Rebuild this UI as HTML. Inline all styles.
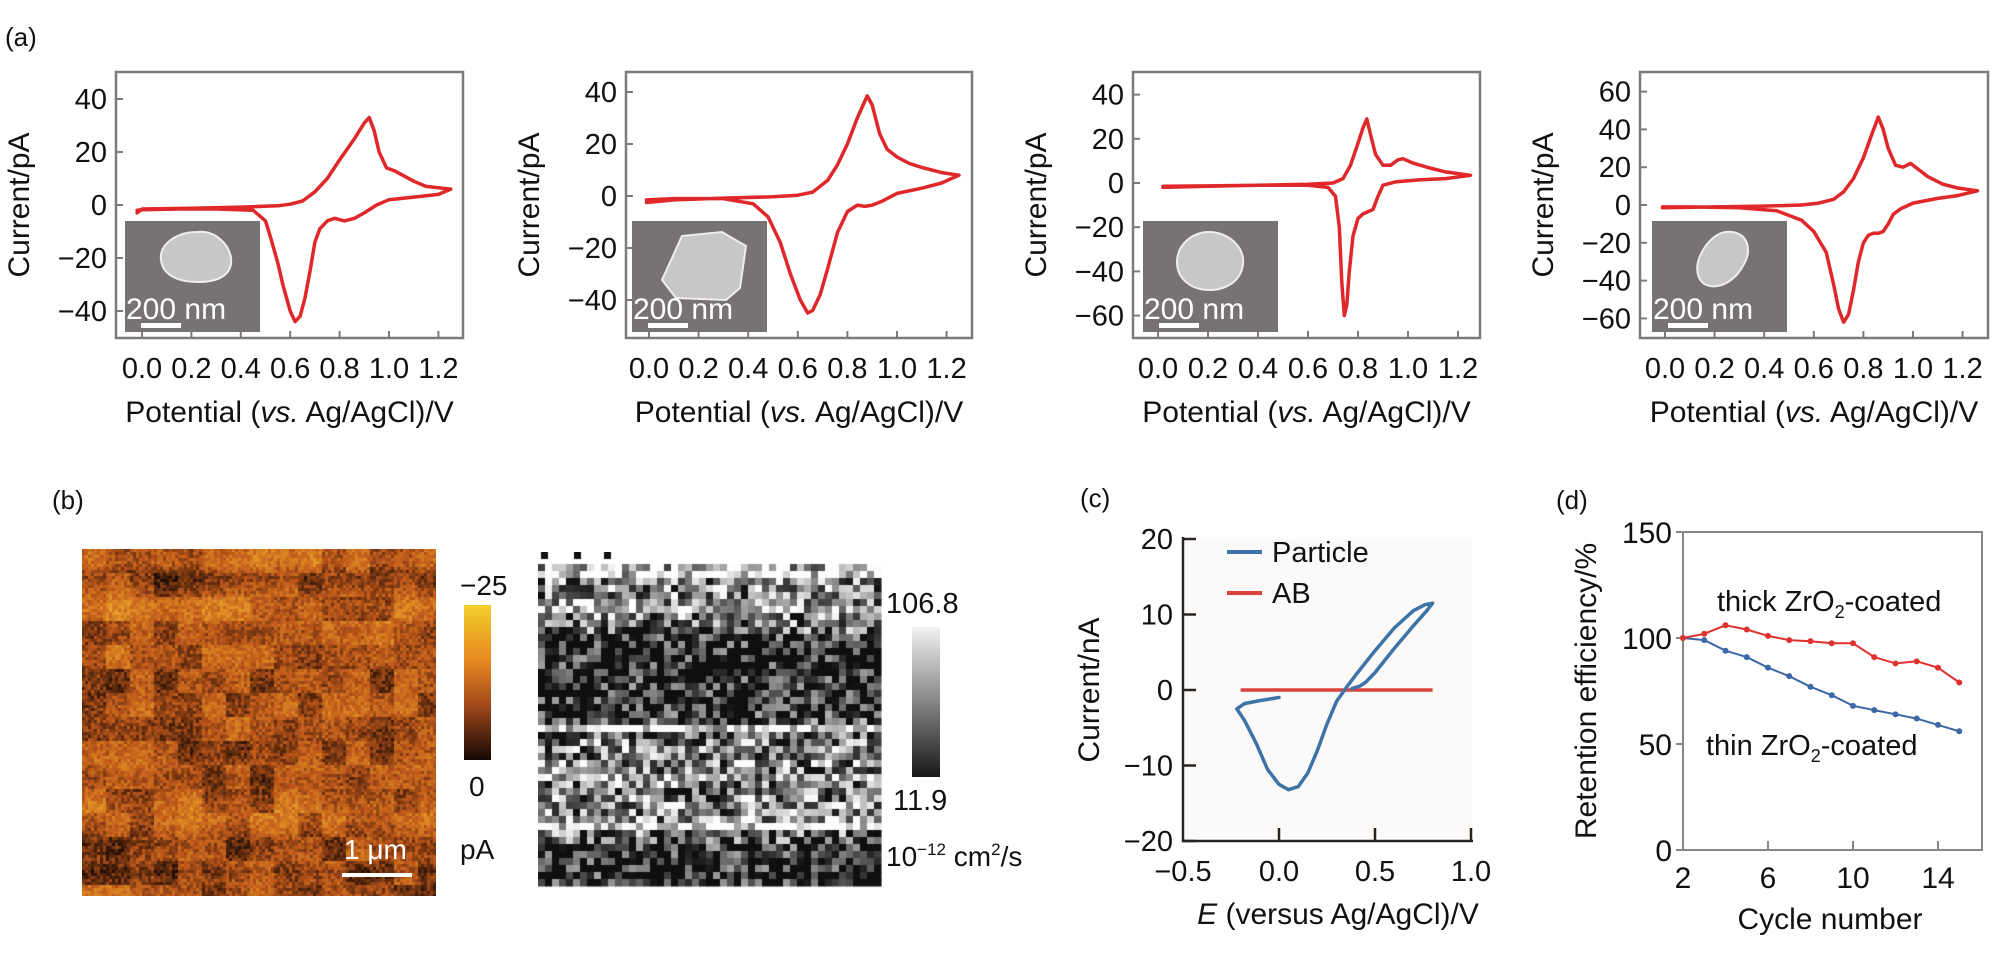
<!DOCTYPE html>
<html><head><meta charset="utf-8"><title>CV and retention figure</title>
<style>
html,body{margin:0;padding:0;background:#fff;}
#wrap{position:relative;width:1998px;height:953px;overflow:hidden;font-family:"Liberation Sans",Arial,sans-serif;}
svg{position:absolute;left:0;top:0;}
canvas{position:absolute;}
text{font-family:"Liberation Sans",Arial,sans-serif;fill:#111;}
</style></head>
<body>
<div id="wrap">
<canvas id="omap" width="354" height="347" style="left:82px;top:549px"></canvas>
<canvas id="gmap" width="344" height="346" style="left:538px;top:552px"></canvas>
<svg id="fig" width="1998" height="953" viewBox="0 0 1998 953">
  <text x="5" y="46" font-size="26">(a)</text>
  <text x="52" y="509" font-size="26">(b)</text>
  <text x="1080" y="507" font-size="26">(c)</text>
  <text x="1556" y="509" font-size="26">(d)</text>

  <defs>
    <linearGradient id="og" x1="0" y1="0" x2="0" y2="1">
      <stop offset="0" stop-color="#f2cf2a"/><stop offset="0.35" stop-color="#e98a22"/>
      <stop offset="0.65" stop-color="#a0481a"/><stop offset="1" stop-color="#140805"/>
    </linearGradient>
    <linearGradient id="gg" x1="0" y1="0" x2="0" y2="1">
      <stop offset="0" stop-color="#f4f2f0"/><stop offset="1" stop-color="#1a1816"/>
    </linearGradient>
  </defs>
  <rect x="464" y="605" width="27" height="155" fill="url(#og)"/>
  <text x="460" y="595" font-size="28">−25</text>
  <text x="469" y="796" font-size="28">0</text>
  <text x="460" y="859" font-size="28">pA</text>
  <text x="344" y="859" font-size="28" fill="#fff" style="fill:#fff">1 μm</text>
  <rect x="342" y="873" width="70" height="4" fill="#fff"/>

  <rect x="912" y="627" width="28" height="150" fill="url(#gg)"/>
  <text x="886" y="613" font-size="29">106.8</text>
  <text x="893" y="810" font-size="29">11.9</text>
  <text x="886" y="866" font-size="28">10<tspan font-size="17" dy="-11">−12</tspan><tspan dy="11"> cm</tspan><tspan font-size="17" dy="-11">2</tspan><tspan dy="11">/s</tspan></text>

  <g id="cvgroup"></g>
  <g id="cgroup"></g>
  <g id="dgroup"></g>
</svg>
</div>
<script>
// ===== Panel (a) data =====
const cvXTicks = [0, 0.2, 0.4, 0.6, 0.8, 1.0, 1.2];
const cv1YTicks = [40, 20, 0, -20, -40];
const cv2YTicks = [40, 20, 0, -20, -40];
const cv3YTicks = [40, 20, 0, -20, -40, -60];
const cv4YTicks = [60, 40, 20, 0, -20, -40, -60];

const cv1Potential = [-0.02,0.0,0.2,0.4,0.55,0.6,0.65,0.7,0.75,0.8,0.86,0.9,0.92,0.94,0.96,0.99,1.02,1.06,1.1,1.15,1.2,1.25,1.2,1.1,1.0,0.95,0.9,0.86,0.82,0.78,0.75,0.72,0.7,0.68,0.66,0.64,0.62,0.6,0.57,0.55,0.52,0.5,0.45,0.3,0.15,0.0,-0.02];
const cv1Current   = [-3,-1.5,-1.2,-0.8,-0.3,0.3,1.5,5,10,17,25,31,33,28,20,14,13,11,9,7,6.5,6,4,3,2,0,-3,-5,-6,-5,-6,-9,-14,-25,-35,-42,-44,-40,-30,-22,-12,-6,-2,-1.5,-1.5,-1.8,-2];

const cv2Potential = [-0.01,0.1,0.3,0.5,0.6,0.66,0.72,0.76,0.8,0.84,0.88,0.9,0.93,0.96,1.0,1.05,1.1,1.18,1.25,1.18,1.1,1.0,0.94,0.9,0.87,0.84,0.8,0.76,0.72,0.69,0.66,0.64,0.61,0.57,0.53,0.48,0.42,0.3,0.1,-0.01];
const cv2Current   = [-2.5,-1.5,-0.8,-0.3,0.3,1.5,6,12,20,30,38.5,35,24,18,15,12.5,11,9,8,5,3,1,-2,-3.5,-4,-3.5,-6,-14,-28,-38,-44,-45,-40,-30,-18,-8,-3,-1,-1,-1.5];

const cv3Potential = [0.02,0.2,0.4,0.6,0.7,0.74,0.77,0.8,0.82,0.835,0.85,0.87,0.9,0.93,0.96,0.98,1.02,1.08,1.15,1.25,1.15,1.05,0.95,0.9,0.88,0.86,0.84,0.82,0.8,0.78,0.765,0.755,0.745,0.735,0.725,0.71,0.68,0.6,0.4,0.2,0.02];
const cv3Current   = [-2,-1.5,-1,-0.6,0,2,8,18,25,29,22,13,8,8,10.5,11,9,7,5,3.5,2,1.5,0.5,-1,-6,-12,-13,-14,-16,-24,-40,-55,-60,-45,-20,-6,-2,-1,-1,-1.3,-1.5];

const cv4Potential = [-0.01,0.2,0.4,0.55,0.62,0.68,0.72,0.76,0.8,0.83,0.86,0.88,0.9,0.93,0.96,0.99,1.02,1.06,1.12,1.18,1.26,1.18,1.1,1.0,0.95,0.92,0.9,0.88,0.86,0.84,0.82,0.8,0.78,0.76,0.74,0.72,0.7,0.68,0.65,0.6,0.55,0.45,0.3,0.1,-0.01];
const cv4Current   = [-1.5,-1,-0.6,0,1,3,7,14,25,36,46.5,40,30,21,20,22,19,15,11,9,7.5,5,3.5,1,-2,-5,-10,-14,-15,-15,-16,-20,-30,-45,-58,-62,-55,-42,-25,-14,-8,-3,-1.5,-1,-1];

// ===== Panel (c) data =====
const cXTicks = [-0.5, 0.0, 0.5, 1.0];
const cYTicks = [20, 10, 0, -10, -20];
const particlePotential = [0.0,-0.1,-0.18,-0.22,-0.18,-0.12,-0.06,0.0,0.05,0.1,0.15,0.2,0.25,0.3,0.35,0.4,0.5,0.6,0.7,0.76,0.8,0.77,0.7,0.6,0.5,0.45,0.42,0.38];
const particleCurrent   = [-1,-1.4,-1.8,-2.5,-4,-7,-10.5,-12.5,-13.2,-12.8,-11,-8,-4.5,-1.5,0.3,2,5.2,8.2,10.5,11.3,11.5,10.5,8.5,5.5,2.3,1,0.5,0.2];
const abPotential = [-0.2, 0.8];
const abCurrent   = [0, 0];

// ===== Panel (d) data =====
const dCycles = [2,3,4,5,6,7,8,9,10,11,12,13,14,15];
const thickRetention = [100,102,106,104,101,99,98.5,97.5,97.5,91,88,89,86,79];
const thinRetention  = [100,99,94,91,86,82,77,73,68,66,64,62,59,56];
const dXTicks = [2, 6, 10, 14];
const dYTicks = [0, 50, 100, 150];

// ===== texture profiles for panel (b) maps (row brightness levels) =====
const grayRowLevels = [0.75,0.85,0.5,0.55,0.5,0.6,0.75,0.5,0.45,0.35,0.1,0.08,0.06,0.07,0.08,0.06,0.08,0.1,0.07,0.06,0.08,0.15,0.3,0.95,0.35,0.45,0.5,0.4,0.5,0.45,0.55,0.5,0.4,0.5,0.55,0.45,0.6,0.9,0.4,0.3,0.12,0.08,0.07,0.1,0.08,0.06];
const orangeRowLevels = [0.55,0.6,0.3,0.45,0.62,0.6,0.45,0.5,0.55,0.45,0.4,0.45,0.5,0.45,0.42,0.4,0.48,0.35,0.45,0.55,0.6,0.5,0.35,0.45,0.3,0.42,0.45];

const NS = "http://www.w3.org/2000/svg";
function el(tag, attrs, parent){
  const e = document.createElementNS(NS, tag);
  for (const k in attrs) e.setAttribute(k, attrs[k]);
  parent.appendChild(e);
  return e;
}
function fmtMinus(v, dec){ const s = Math.abs(v).toFixed(dec); return v < 0 ? "\u2212" + s : s; }

// ---------- Panel (a) ----------
const cvLayouts = [
  {left:116,right:463,top:72,bottom:338,x0:142,pxV:247,y0:205,pxA:2.65,inset:125},
  {left:626,right:972,top:72,bottom:338,x0:649,pxV:248,y0:196,pxA:2.6,inset:632},
  {left:1133,right:1480,top:72,bottom:338,x0:1158,pxV:250,y0:183,pxA:2.21,inset:1143},
  {left:1640,right:1988,top:72,bottom:338,x0:1665,pxV:248,y0:205,pxA:1.89,inset:1652}
];
const cvData = [[cv1Potential,cv1Current,cv1YTicks],[cv2Potential,cv2Current,cv2YTicks],[cv3Potential,cv3Current,cv3YTicks],[cv4Potential,cv4Current,cv4YTicks]];
const blobShapes = [
  "M52,0 C70,-2 84,12 86,26 C88,42 74,50 54,50 C34,50 18,44 16,28 C14,12 32,0 52,0Z",
  "M30,4 L70,0 L94,14 L88,56 L74,68 L24,66 L10,48 Z",
  "M46,0 C64,0 82,14 80,32 C78,50 62,58 46,58 C30,58 14,48 14,30 C14,12 30,0 46,0Z",
  "M60,0 C76,2 80,18 72,32 C64,48 50,56 38,54 C26,52 22,38 28,24 C34,10 46,-2 60,0Z"
];
const cvg = document.getElementById("cvgroup");
cvLayouts.forEach((L, p) => {
  const [pot, cur, yt] = cvData[p];
  const X = v => L.x0 + v * L.pxV;
  const Y = a => L.y0 - a * L.pxA;
  const g = el("g", {}, cvg);
  
  
  const box = el("rect", {x:L.left, y:L.top, width:L.right-L.left, height:L.bottom-L.top, fill:"#fff", stroke:"#7d7a78", "stroke-width":2.5}, g);
  
  
  const ins = el("g", {}, g);
  
  
  el("rect", {x:L.inset, y:221, width:135, height:111, fill:"#777372"}, ins);
  el("path", {d:blobShapes[p], transform:"translate(" + (L.inset+20) + ",232)", fill:"#c9c7c6", stroke:"#eeeeee", "stroke-width":2}, ins);
  const it = el("text", {x:L.inset+1, y:319, "font-size":30, style:"fill:#fff"}, ins);
  it.textContent = "200 nm";
  el("rect", {x:L.inset+16, y:323, width:40, height:5, fill:"#fff"}, ins);
  yt.forEach(v => {
    const t = el("line", {x1:L.left, x2:L.left+7, y1:Y(v), y2:Y(v), stroke:"#7d7a78", "stroke-width":2}, g);
    
    
    const lb = el("text", {x:L.left-9, y:Y(v)+10, "font-size":29, "text-anchor":"end"}, g);
    
    
    lb.textContent = fmtMinus(v, 0);
  });
  cvXTicks.forEach(v => {
    const t = el("line", {x1:X(v), x2:X(v), y1:L.bottom, y2:L.bottom-7, stroke:"#7d7a78", "stroke-width":2}, g);
    
    
    const lb = el("text", {x:X(v), y:378, "font-size":29, "text-anchor":"middle"}, g);
    
    
    lb.textContent = v.toFixed(1);
  });
  const pts = pot.map((v,i) => X(v).toFixed(1) + "," + Y(cur[i]).toFixed(1)).join(" ");
  const line = el("polyline", {points:pts, fill:"none", stroke:"#e0272a", "stroke-width":3.5, "stroke-linejoin":"round", "stroke-linecap":"round"}, g);
  
  
  const xt = el("text", {x:(L.left+L.right)/2, y:422, "font-size":30, "text-anchor":"middle"}, g);
  
  
  xt.innerHTML = 'Potential (<tspan font-style="italic">vs.</tspan> Ag/AgCl)/V';
  const cx = L.left - 87, cy = 205;
  const yti = el("text", {x:cx, y:cy, "font-size":30, "text-anchor":"middle", transform:"rotate(-90 " + cx + " " + cy + ")"}, g);
  
  
  yti.textContent = "Current/pA";
});

// ---------- Panel (c) ----------
(function(){
  const g = document.getElementById("cgroup");
  
  
  const X = v => 1279 + v * 192;
  const Y = a => 690 - a * 7.55;
  el("rect", {x:1185, y:539, width:287, height:300, fill:"#fcfaf8"}, g);
  el("path", {d:"M1183,537 L1183,841 L1473,841", fill:"none", stroke:"#2a2422", "stroke-width":2.5}, g);
  cYTicks.forEach(v => {
    const t = el("line", {x1:1183, x2:1196, y1:Y(v), y2:Y(v), stroke:"#2a2422", "stroke-width":2.5}, g);
    
    
    const lb = el("text", {x:1173, y:Y(v)+10, "font-size":29, "text-anchor":"end"}, g);
    
    
    lb.textContent = fmtMinus(v, 0);
  });
  cXTicks.forEach(v => {
    if (v > -0.5) {
      const t = el("line", {x1:X(v), x2:X(v), y1:841, y2:828, stroke:"#2a2422", "stroke-width":2.5}, g);
      
      
    }
    const lb = el("text", {x:X(v), y:881, "font-size":29, "text-anchor":"middle"}, g);
    
    
    lb.textContent = fmtMinus(v, 1);
  });
  const ab = el("polyline", {points:abPotential.map((v,i)=>X(v)+","+Y(abCurrent[i])).join(" "), fill:"none", stroke:"#d8433b", "stroke-width":3.5}, g);
  
  
  const pl = el("polyline", {points:particlePotential.map((v,i)=>X(v).toFixed(1)+","+Y(particleCurrent[i]).toFixed(1)).join(" "), fill:"none", stroke:"#3d74a8", "stroke-width":3.5, "stroke-linejoin":"round", "stroke-linecap":"round"}, g);
  
  
  const l1 = el("line", {x1:1227, x2:1262, y1:552, y2:552, stroke:"#3d74a8", "stroke-width":4}, g);
  
  
  const t1 = el("text", {x:1272, y:562, "font-size":29}, g);
  
  
  t1.textContent = "Particle";
  const l2 = el("line", {x1:1227, x2:1262, y1:593, y2:593, stroke:"#d8433b", "stroke-width":4}, g);
  
  
  const t2 = el("text", {x:1272, y:603, "font-size":29}, g);
  
  
  t2.textContent = "AB";
  const yt = el("text", {x:1099, y:690, "font-size":30, "text-anchor":"middle", transform:"rotate(-90 1099 690)"}, g);
  
  
  yt.textContent = "Current/nA";
  const xt = el("text", {x:1338, y:924, "font-size":30, "text-anchor":"middle"}, g);
  
  
  xt.innerHTML = '<tspan font-style="italic">E</tspan> (versus Ag/AgCl)/V';
})();

// ---------- Panel (d) ----------
(function(){
  const g = document.getElementById("dgroup");
  
  
  const X = c => 1683 + (c - 2) * 21.25;
  const Y = r => 850 - r * 2.12;
  el("rect", {x:1683, y:Y(150), width:1982-1683, height:850-Y(150), fill:"#fff", stroke:"#8a8584", "stroke-width":2}, g);
  dYTicks.forEach(v => {
    const t = el("line", {x1:1676, x2:1683, y1:Y(v), y2:Y(v), stroke:"#8a8584", "stroke-width":2}, g);
    
    
    const lb = el("text", {x:1672, y:Y(v)+11, "font-size":30, "text-anchor":"end"}, g);
    
    
    lb.textContent = String(v);
  });
  dXTicks.forEach(v => {
    const t = el("line", {x1:X(v), x2:X(v), y1:850, y2:841, stroke:"#8a8584", "stroke-width":2}, g);
    
    
    const lb = el("text", {x:X(v), y:888, "font-size":30, "text-anchor":"middle"}, g);
    
    
    lb.textContent = String(v);
  });
  [[thinRetention,"#3b68a6","thin-series"],[thickRetention,"#e0312e","thick-series"]].forEach(([arr,col,nm]) => {
    const pl = el("polyline", {points:dCycles.map((c,i)=>X(c)+","+Y(arr[i]).toFixed(1)).join(" "), fill:"none", stroke:col, "stroke-width":2}, g);
    
    
    dCycles.forEach((c,i) => {
      const m = el("circle", {cx:X(c), cy:Y(arr[i]), r:3, fill:col}, g);
      
      
    });
  });
  const a1 = el("text", {x:1717, y:611, "font-size":29}, g);
  
  
  a1.innerHTML = 'thick ZrO<tspan font-size="18" dy="7">2</tspan><tspan dy="-7">-coated</tspan>';
  const a2 = el("text", {x:1706, y:755, "font-size":29}, g);
  
  
  a2.innerHTML = 'thin ZrO<tspan font-size="18" dy="7">2</tspan><tspan dy="-7">-coated</tspan>';
  const yt = el("text", {x:1596, y:691, "font-size":30, "text-anchor":"middle", transform:"rotate(-90 1596 691)"}, g);
  
  
  yt.textContent = "Retention efficiency/%";
  const xt = el("text", {x:1830, y:929, "font-size":30, "text-anchor":"middle"}, g);
  
  
  xt.textContent = "Cycle number";
})();

// ---------- Panel (b) map textures (deterministic) ----------
function hash(i, j){ let h = (i * 374761393 + j * 668265263) | 0; h = (h ^ (h >>> 13)) * 1274126177 | 0; return ((h ^ (h >>> 16)) >>> 0) / 4294967295; }
(function(){
  const c = document.getElementById("gmap").getContext("2d");
  c.fillStyle = "#fff"; c.fillRect(0,0,344,346);
  c.fillStyle = "#111"; [[3,0],[36,0],[66,0]].forEach(([x,y]) => c.fillRect(x, y, 7, 7));
  const cell = 7, top = 12;
  grayRowLevels.forEach((lv, r) => {
    for (let k = 0; k < 49; k++) {
      let v = lv + (hash(r, k) - 0.5) * 1.1;
      v = Math.max(0, Math.min(1, v));
      const g = Math.round(15 + v * 238);
      c.fillStyle = "rgb(" + g + "," + g + "," + g + ")";
      c.fillRect(k * cell, top + r * cell, cell + 0.5, cell + 0.5);
    }
  });
})();
(function(){
  const c = document.getElementById("omap").getContext("2d");
  const cell = 3, nr = Math.ceil(347 / cell), nc = Math.ceil(354 / cell);
  for (let r = 0; r < nr; r++) {
    const f = r / nr * (orangeRowLevels.length - 1);
    const i0 = Math.floor(f), t = f - i0;
    const base = orangeRowLevels[i0] * (1 - t) + orangeRowLevels[Math.min(i0 + 1, orangeRowLevels.length - 1)] * t;
    for (let k = 0; k < nc; k++) {
      const blob = (hash(Math.floor(r / 8) + 500, Math.floor(k / 8)) - 0.5) * 0.4;
      let v = base + blob + (hash(r + 1000, k) - 0.5) * 0.35;
      v = Math.max(0, Math.min(1, v));
      let R, G, B;
      if (v < 0.5) { const u = v / 0.5; R = 25 + u * 165; G = 10 + u * 78; B = 5 + u * 22; }
      else { const u = (v - 0.5) / 0.5; R = 190 + u * 50; G = 88 + u * 80; B = 27 + u * 15; }
      c.fillStyle = "rgb(" + (R|0) + "," + (G|0) + "," + (B|0) + ")";
      c.fillRect(k * cell, r * cell, cell, cell);
    }
  }
})();
</script>
</body></html>
